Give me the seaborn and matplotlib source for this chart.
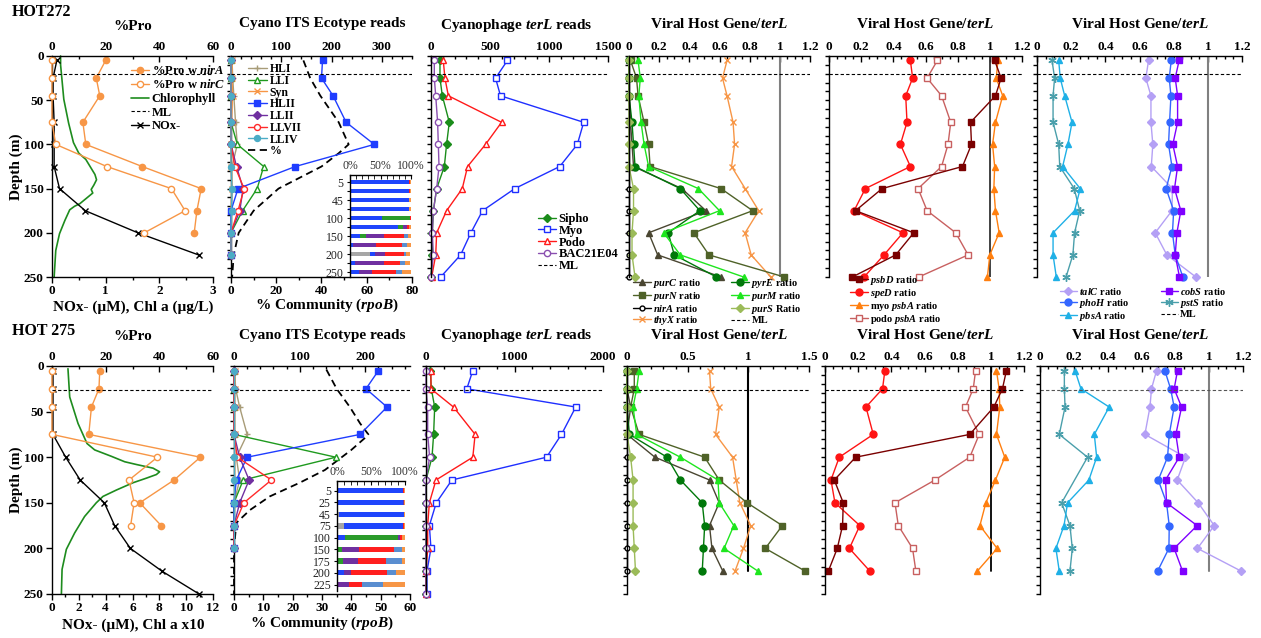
import matplotlib.pyplot as plt
import seaborn as sns
from matplotlib.lines import Line2D
from matplotlib.ticker import MultipleLocator, FuncFormatter

# ---------------- data ----------------
depth_272 = [5, 25, 45, 75, 100, 125, 150, 175, 200, 225, 250]
depth_275 = [5, 25, 45, 75, 100, 125, 150, 175, 200, 225, 250]
ml_272 = 20
ml_275 = 26

# HOT272 - %Pro / NOx / Chl
pro_nirA_272 = [20, 16.5, 17.8, 11.5, 12.6, 33.6, 55.6, 54, 53]
pro_nirC_272 = [0, 0, 0, 0, 1.4, 20.4, 44.5, 49.6, 34.4]
nox_272 = [0.09, 0.02, 0.02, 0.04, 0.04, 0.04, 0.14, 0.62, 1.6, 2.73]
chl_depth_272 = [0, 10, 49, 76, 98, 110, 117, 125, 134, 140, 146, 151, 155, 161, 167, 170, 174, 186, 201, 220, 250]
chl_272 = [0.16, 0.16, 0.22, 0.31, 0.40, 0.50, 0.63, 0.71, 0.80, 0.83, 0.78, 0.73, 0.76, 0.64, 0.52, 0.42,
           0.33, 0.24, 0.14, 0.07, 0.04]

# HOT275 - %Pro / NOx / Chl x10
pro_nirA_275 = [17.8, 17.5, 14.7, 13.7, 55.3, 45.5, 32.7, 40.7]
pro_nirC_275 = [0, 0, 0, 0, 39.3, 28.7, 30.6, 29.3]
nox_275 = [0.07, 0.07, 0.07, 0.07, 1.02, 2.1, 3.9, 4.67, 5.84, 8.2, 10.96]
chl_depth_275 = [3, 34, 63, 85, 92, 99, 105, 108, 112, 116, 119, 123, 128, 136, 143, 150, 165, 183, 201, 223, 250]
chl_275 = [1.19, 1.32, 1.94, 2.61, 3.18, 4.42, 5.42, 6.29, 7.53, 8.02, 7.78, 7.03, 6.04, 4.80, 3.80, 3.30,
           2.43, 1.69, 1.07, 0.75, 0.70]

# Cyano ITS ecotype reads
ecotypes = ['HLI', 'LLI', 'Syn', 'HLII', 'LLII', 'LLVII', 'LLIV']
its_272 = {
    'HLI': [2, 3.5, 5.6, 9, 12.6, 2, 1, 1, 1, 0],
    'LLI': [0, 0, 0, 0, 12.6, 65, 52, 23, 0, 0],
    'Syn': [2, 2, 3, 1, 0, 0, 2, 0, 0, 0],
    'HLII': [182, 180, 203, 229, 285, 128, 14, 0, 0, 0],
    'LLII': [0, 0, 0, 0, 0, 11, 24, 17.5, 0, 0],
    'LLVII': [0, 0, 0, 0, 0, 7.7, 26, 14, 0, 0],
    'LLIV': [0, 0, 0, 0, 0, 0, 2, 1, 0, 0],
}
its_275 = {
    'HLI': [1, 2.5, 8.6, 20, 3.5, 8.6, 0, 0, 0],
    'LLI': [0, 0, 0, 0, 155, 14, 0, 0, 0],
    'Syn': [1, 1, 1, 1, 1, 1, 1, 0, 0],
    'HLII': [220, 201, 233, 192, 20, 3.5, 0, 0, 0],
    'LLII': [0, 0, 0, 0, 8.6, 23, 8.6, 0, 0],
    'LLVII': [0, 0, 0, 0, 5, 57, 15, 0, 0],
    'LLIV': [0, 0, 0, 0, 0, 0, 0, 0, 0],
}
pct_depth_272 = [5, 25, 45, 75, 100, 110, 125, 150, 175, 200, 225, 250]
pct_272 = [32, 35, 39.5, 47.6, 52, 47.6, 40, 21, 10, 3.4, 1.2, 0.5]
pct_depth_275 = [4, 25, 45, 63, 75, 79, 92, 114, 128, 143, 158, 172, 200, 250]
pct_275 = [31.5, 35, 39.5, 43, 45.8, 44.6, 40, 31, 22.4, 12.2, 5.4, 0.8, 0, 0]

# % community (rpoB) stacked bars
bar_order = ['HLI', 'HLII', 'LLI', 'LLII', 'LLVII', 'LLIV', 'Syn']
bar_depth_272 = ['5', '25', '45', '75', '100', '125', '150', '175', '200', '225', '250']
bars_272 = {
    'HLI': [0, 0, 0, 0, 0, 0, 0, 0, 33, 0, 0],
    'HLII': [97, 97, 97, 97, 52, 79, 16, 5, 8, 8, 14],
    'LLI': [0, 0, 0, 0, 47, 8, 10, 0, 0, 0, 0],
    'LLII': [0, 0, 0, 0, 0, 7, 29, 38, 16, 48, 22],
    'LLVII': [1, 1, 0, 0, 1, 3, 33, 43, 31, 26, 40],
    'LLIV': [0, 0, 0, 0, 0, 0, 7, 8, 4, 8, 9],
    'Syn': [2, 2, 3, 3, 0, 3, 5, 6, 7, 9, 15],
}
bar_depth_275 = ['5', '25', '45', '75', '100', '150', '175', '200', '225']
bars_275 = {
    'HLI': [0, 1, 3, 10, 0, 0, 0, 0, 0],
    'HLII': [97, 96, 95, 87, 12, 2, 2, 11, 0],
    'LLI': [0, 0, 0, 0, 78, 5, 7, 0, 0],
    'LLII': [0, 1, 0, 0, 3, 26, 22, 10, 18],
    'LLVII': [1, 1, 1, 1, 3, 51, 41, 52, 19],
    'LLIV': [0, 0, 0, 0, 0, 11, 24, 14, 31],
    'Syn': [2, 1, 1, 2, 4, 5, 4, 13, 32],
}

# Cyanophage terL reads
sipho_272 = [76, 76, 96, 155, 132, 113, 48, 20, 11, 11, 0]
myo_272 = [648, 547, 589, 1294, 1240, 1091, 710, 437, 338, 251, 82]
podo_272 = [104, 118, 147, 598, 462, 310, 265, 132, 48, 40, 6]
bac_272 = [28, 28, 40, 56, 62, 68, 48, 20, 11, 20, 0]
sipho_275 = [49, 60, 98, 86, 68, 0, 0, 0, 0, 0, 0]
myo_275 = [529, 461, 1692, 1531, 1362, 293, 116, 38, 56, 11, 11]
podo_275 = [56, 56, 311, 555, 529, 113, 38, 19, 19, 0, 0]
bac_275 = [0, 0, 19, 19, 41, 0, 0, 0, 0, 0, 0]

# Viral host gene / terL (purine etc.)
purC_272 = [0, 0, 0, 0.01, 0.02, 0.03, 0.35, 0.51, 0.13, 0.19, 0.61]
purN_272 = [0.01, 0.05, 0.06, 0.10, 0.13, 0.14, 0.61, 0.82, 0.43, 0.53, 1.03]
nirA_272 = [0, 0, 0, 0, 0, 0, 0, 0, 0, 0, 0]
thyX_272 = [0.65, 0.62, 0.65, 0.69, 0.70, 0.68, 0.77, 0.86, 0.77, 0.81, 0.94]
pyrE_272 = [0, 0, 0, 0.02, 0.03, 0.04, 0.34, 0.47, 0.26, 0.30, 0.58]
purM_272 = [0.06, 0.075, 0.065, 0.08, 0.10, 0.13, 0.46, 0.60, 0.23, 0.34, 0.76]
purS_272 = [0, 0, 0, 0, 0, 0, 0.03, 0.03, 0.02, 0.02, 0.04]
purC_275 = [0, 0, 0.03, 0, 0.23, 0.68, 0.76, 0.68, 0.70, 0.79]
purN_275 = [0.06, 0.06, 0.03, 0.10, 0.64, 0.76, 0.99, 1.28, 1.14, 1.47]
nirA_275 = [0, 0, 0, 0, 0, 0, 0, 0, 0, 0]
thyX_275 = [0.68, 0.69, 0.76, 0.73, 0.87, 0.90, 0.93, 1.02, 0.96, 0.89]
pyrE_275 = [0, 0, 0, 0.02, 0.33, 0.44, 0.62, 0.64, 0.63, 0.62]
purM_275 = [0.10, 0.08, 0.05, 0.08, 0.44, 0.75, 0.76, 0.88, 0.80, 1.08]
purS_275 = [0, 0, 0, 0, 0.03, 0.05, 0.05, 0.05, 0.06, 0.07]

# Viral host gene / terL (photosynthesis)
psbD_272 = [1.03, 1.07, 1.035, 0.88, 0.886, 0.83, 0.33, 0.165, 0.527, 0.415, 0.145]
speD_272 = [0.506, 0.52, 0.477, 0.485, 0.444, 0.506, 0.226, 0.156, 0.46, 0.342, 0.218]
myo_psbA_272 = [1.05, 1.04, 1.08, 1.035, 1.017, 1.03, 1.025, 1.035, 1.058, 1.0, 0.985]
podo_psbA_272 = [0.674, 0.61, 0.70, 0.757, 0.74, 0.70, 0.554, 0.61, 0.788, 0.865, 0.558]
psbD_275 = [1.094, 1.07, 1.018, 0.873, 0.185, 0.056, 0.11, 0.106, 0.074, 0.02]
speD_275 = [0.361, 0.347, 0.247, 0.291, 0.086, 0.036, 0.06, 0.21, 0.147, 0.271]
myo_psbA_275 = [1.034, 1.05, 1.054, 1.034, 1.084, 1.028, 0.97, 0.934, 1.038, 0.918]
podo_psbA_275 = [0.908, 0.894, 0.847, 0.93, 0.873, 0.663, 0.422, 0.442, 0.528, 0.548]

# Viral host gene / terL (P metabolism etc.)
talC_272 = [0.653, 0.637, 0.667, 0.667, 0.678, 0.669, 0.793, 0.79, 0.692, 0.76, 0.93]
phoH_272 = [0.786, 0.774, 0.784, 0.776, 0.77, 0.79, 0.756, 0.80, 0.793, 0.809, 0.854]
cobS_272 = [0.832, 0.809, 0.823, 0.823, 0.795, 0.823, 0.805, 0.842, 0.819, 0.809, 0.834]
pstS_272 = [0.088, 0.103, 0.094, 0.094, 0.127, 0.133, 0.218, 0.25, 0.22, 0.21, 0.17]
pbsA_272 = [0.127, 0.136, 0.162, 0.205, 0.181, 0.15, 0.253, 0.22, 0.094, 0.094, 0.113]
talC_275 = [0.689, 0.659, 0.65, 0.62, 0.86, 0.811, 0.935, 1.03, 0.931, 1.19]
phoH_275 = [0.738, 0.772, 0.793, 0.764, 0.754, 0.699, 0.748, 0.764, 0.762, 0.695]
cobS_275 = [0.813, 0.793, 0.837, 0.803, 0.823, 0.742, 0.748, 0.929, 0.793, 0.843]
pstS_depth_275 = [5, 25, 45, 75, 100, 150, 175, 200, 225]
pstS_275 = [0.144, 0.144, 0.148, 0.114, 0.281, 0.128, 0.177, 0.191, 0.177]
pbsA_275 = [0.207, 0.242, 0.409, 0.321, 0.335, 0.289, 0.163, 0.142, 0.094, 0.114]

# ---------------- style ----------------
sns.set_style("ticks")
plt.rcParams['font.family'] = ['Liberation Serif', 'DejaVu Serif']
plt.rcParams['font.weight'] = 'bold'
plt.rcParams['mathtext.fontset'] = 'custom'
plt.rcParams['mathtext.rm'] = 'Liberation Serif:bold'
plt.rcParams['mathtext.it'] = 'Liberation Serif:italic:bold'
plt.rcParams['mathtext.bf'] = 'Liberation Serif:bold'
for k in ['axes.edgecolor', 'text.color', 'xtick.color', 'ytick.color', 'axes.labelcolor']:
    plt.rcParams[k] = 'black'
plt.rcParams['axes.linewidth'] = 1.0

ORANGE = '#f79646'
line_col = {'HLI': '#a89c78', 'LLI': '#1f9a1f', 'Syn': ORANGE, 'HLII': '#1f3dff',
            'LLII': '#7030a0', 'LLVII': '#ff2a2a', 'LLIV': '#4bacc6'}
line_mk = {'HLI': '+', 'LLI': '^', 'Syn': 'x', 'HLII': 's', 'LLII': 'D', 'LLVII': 'o', 'LLIV': 'o'}
line_open = {'LLI', 'LLVII'}
bar_col = {'HLI': '#a6a6a6', 'HLII': '#1f45fc', 'LLI': '#2b9b2b', 'LLII': '#7030a0',
           'LLVII': '#ff1f1f', 'LLIV': '#5a8ed0', 'Syn': ORANGE}

W, H = 1261, 638
fig = plt.figure(figsize=(W / 100, H / 100), dpi=100)
fmt = FuncFormatter(lambda v, p: f'{v:g}')


def px_axes(x0, x1, y0, y1):
    return fig.add_axes([x0 / W, 1 - y1 / H, (x1 - x0) / W, (y1 - y0) / H])


def prof(ax, x, y, color, marker=None, label=None, mfc=None, ms=4.5, lw=1.0, ls='-', mew=1.0):
    kw = dict(color=color, linewidth=lw, linestyle=ls, clip_on=False)
    if marker:
        kw.update(marker=marker, markersize=ms, markerfacecolor=color if mfc is None else mfc,
                  markeredgecolor=color, markeredgewidth=mew)
    sns.lineplot(x=x, y=y, ax=ax, estimator=None, sort=False, legend=False, label=label, **kw)
    return ax.lines[-1]


def style_depth(ax, labelled=False):
    ax.set_ylim(250, 0)
    if labelled:
        ax.set_yticks(range(0, 251, 50))
        ax.tick_params(axis='y', direction='out', length=4, width=1, labelsize=9.5, pad=2)
    else:
        ax.set_yticks(range(0, 251, 10))
        ax.set_yticklabels([])
        ax.tick_params(axis='y', direction='out', length=3, width=1)
    ax.set_ylabel('')


def style_top(ax, hi, major, minor):
    ax.set_xlim(0, hi)
    ax.xaxis.set_major_locator(MultipleLocator(major))
    ax.xaxis.set_minor_locator(MultipleLocator(minor))
    ax.xaxis.set_major_formatter(fmt)
    ax.xaxis.tick_top()
    ax.tick_params(axis='x', which='both', top=True, bottom=False, labeltop=True, labelbottom=False,
                   direction='in', labelsize=9.5, pad=2, width=1)
    ax.tick_params(axis='x', which='major', length=4)
    ax.tick_params(axis='x', which='minor', length=2.5)
    ax.set_xlabel('')


def style_bottom(ax, hi, major, minor):
    ax.set_xlim(0, hi)
    ax.xaxis.set_major_locator(MultipleLocator(major))
    ax.xaxis.set_minor_locator(MultipleLocator(minor))
    ax.xaxis.set_major_formatter(fmt)
    ax.tick_params(axis='x', which='both', bottom=True, top=False, direction='out', labelsize=9.5,
                   pad=2, width=1)
    ax.tick_params(axis='x', which='major', length=4)
    ax.tick_params(axis='x', which='minor', length=2.5)
    ax.set_xlabel('')


def single_axes(x0, x1, y0, y1):
    ax = px_axes(x0, x1, y0, y1)
    ax.patch.set_alpha(0)
    for s in ['bottom', 'right']:
        ax.spines[s].set_visible(False)
    return ax


def twin_axes(x0, x1, y0, y1):
    ax_b = px_axes(x0, x1, y0, y1)
    ax_b.patch.set_alpha(0)
    ax_t = ax_b.twiny()
    ax_b.spines['top'].set_visible(False)
    ax_b.spines['right'].set_visible(False)
    for s in ['left', 'right', 'bottom']:
        ax_t.spines[s].set_visible(False)
    return ax_b, ax_t


def put_legend(ax, handles, x, y, ncol=1, size=9, hl=1.4, lsp=0.0, cs=1.0):
    return ax.legend(handles=handles, loc='upper left', bbox_to_anchor=(x / W, 1 - y / H),
                     bbox_transform=fig.transFigure, frameon=False, ncol=ncol, borderpad=0,
                     borderaxespad=0, handlelength=hl, handletextpad=0.25, labelspacing=lsp,
                     columnspacing=cs, prop={'size': size, 'weight': 'bold'})


def ml_handle():
    return Line2D([], [], color='black', linestyle=(0, (3, 2)), linewidth=0.8, label='ML')


def ml_line(ax, depth, color='black'):
    ax.axhline(depth, color=color, linestyle=(0, (3, 2)), linewidth=0.8)


def ftext(x, y, s, size=11, **kw):
    fig.text(x / W, 1 - y / H, s, fontsize=size, ha=kw.pop('ha', 'center'), va=kw.pop('va', 'center'), **kw)


rows = [
    dict(y0=56, y1=277, depth=depth_272, ml=ml_272, legend=True),
    dict(y0=366, y1=594, depth=depth_275, ml=ml_275, legend=False),
]

# ================= panel 1: %Pro, NOx, Chl =================
for r, (nirA, nirC, nox, cd, chl, hi_b) in enumerate([
        (pro_nirA_272, pro_nirC_272, nox_272, chl_depth_272, chl_272, 3),
        (pro_nirA_275, pro_nirC_275, nox_275, chl_depth_275, chl_275, 12)]):
    row = rows[r]
    d = row['depth']
    ax_b, ax_t = twin_axes(52, 213, row['y0'], row['y1'])
    h_chl = prof(ax_b, chl, cd, '#1e8c1e', label='Chlorophyll', lw=1.2)
    h_nox = prof(ax_b, nox, d[:len(nox)], 'black', 'x', label='NOx-', ms=5)
    h_a = prof(ax_t, nirA, d[:len(nirA)], ORANGE, 'o', label='%Pro w $\\mathit{nirA}$', ms=4.5)
    h_c = prof(ax_t, nirC, d[:len(nirC)], ORANGE, 'o', label='%Pro w $\\mathit{nirC}$', mfc='white', ms=4.5)
    ml_line(ax_t, row['ml'])
    style_depth(ax_b, labelled=True)
    style_bottom(ax_b, hi_b, 1 if hi_b == 3 else 2, 0.5 if hi_b == 3 else 1)
    style_top(ax_t, 60, 20, 10)
    ax_t.set_ylim(250, 0)
    if row['legend']:
        put_legend(ax_t, [h_a, h_c, h_chl, ml_handle(), h_nox], 131, 64, size=9, hl=1.4, lsp=0.12)

# ================= panel 2: Cyano ITS ecotype reads =================
for r, (its, pct_d, pct, bars, bar_d, hi_t, hi_b, xr, inset) in enumerate([
        (its_272, pct_depth_272, pct_272, bars_272, bar_depth_272, 360, 80, (231, 412), (350, 411, 175, 277)),
        (its_275, pct_depth_275, pct_275, bars_275, bar_depth_275, 268, 60, (234, 410), (337, 405, 481, 591))]):
    row = rows[r]
    d = row['depth']
    ax_b, ax_t = twin_axes(xr[0], xr[1], row['y0'], row['y1'])
    h_pct = prof(ax_b, pct, pct_d, 'black', label='%', lw=1.3, ls=(0, (4, 2.5)))
    handles = []
    for eco in ecotypes:
        vals = its[eco]
        handles.append(prof(ax_t, vals, d[:len(vals)], line_col[eco], line_mk[eco], label=eco,
                            mfc='white' if eco in line_open else None,
                            ms=5 if eco in ('HLI', 'Syn') else 4.3))
    ml_line(ax_t, row['ml'])
    style_depth(ax_b)
    style_bottom(ax_b, hi_b, 20 if hi_b == 80 else 10, 10 if hi_b == 80 else 5)
    style_top(ax_t, hi_t, 100, 20)
    ax_t.set_ylim(250, 0)
    if row['legend']:
        put_legend(ax_t, handles + [h_pct], 248, 63, size=8.5, hl=1.6, lsp=-0.02)

    # inset: % community stacked bars
    ax_i = px_axes(*inset)
    ax_i.patch.set_alpha(0)
    n = len(bar_d)
    left = [0] * n
    for eco in bar_order:
        ax_i.barh(range(n), bars[eco], left=left, height=0.45, color=bar_col[eco], linewidth=0)
        left = [a + b for a, b in zip(left, bars[eco])]
    ax_i.set_xlim(0, 100)
    ax_i.set_ylim(n - 1 + 0.55, -0.83)
    ax_i.set_yticks(range(n))
    if n == 11:
        ax_i.set_yticklabels([lab if i % 2 == 0 else '' for i, lab in enumerate(bar_d)])
    else:
        ax_i.set_yticklabels(bar_d)
    ax_i.xaxis.tick_top()
    ax_i.set_xticks([0, 50, 100])
    ax_i.set_xticklabels(['0%', '50%', '100%'])
    ax_i.xaxis.set_minor_locator(MultipleLocator(10))
    ax_i.tick_params(axis='x', which='both', direction='in', length=3, labelsize=8.5, pad=2,
                     labelcolor='#333333')
    ax_i.tick_params(axis='y', direction='out', length=2.5, labelsize=8.5, pad=2, labelcolor='#222222')
    for lab in ax_i.get_xticklabels() + ax_i.get_yticklabels():
        lab.set_fontweight('normal')
    ax_i.spines['right'].set_visible(False)
    ax_i.spines['bottom'].set_visible(False)

# ================= panel 3: Cyanophage terL reads =================
for r, (sipho, myo, podo, bac, hi, major, minor, xr) in enumerate([
        (sipho_272, myo_272, podo_272, bac_272, 1500, 500, 100, (431, 608)),
        (sipho_275, myo_275, podo_275, bac_275, 2000, 1000, 200, (426, 603))]):
    row = rows[r]
    d = row['depth']
    ax = single_axes(xr[0], xr[1], row['y0'], row['y1'])
    h1 = prof(ax, sipho, d, '#1a8c1a', 'D', label='Sipho', ms=3.8)
    h2 = prof(ax, myo, d, '#1f2fff', 's', label='Myo', mfc='white', ms=4.5)
    h3 = prof(ax, podo, d, '#ff1a1a', '^', label='Podo', mfc='white', ms=5)
    h4 = prof(ax, bac, d, '#8a4fb0', 'o', label='BAC21E04', mfc='white', ms=4.5)
    ml_line(ax, row['ml'])
    style_depth(ax)
    style_top(ax, hi, major, minor)
    if row['legend']:
        put_legend(ax, [h1, h2, h3, h4, ml_handle()], 538, 213, size=9, hl=1.4, lsp=-0.02)

# ================= panel 4: purine genes / terL =================
for r, (purC, purN, nirA, thyX, pyrE, purM, purS, hi, major, xr, vcol) in enumerate([
        (purC_272, purN_272, nirA_272, thyX_272, pyrE_272, purM_272, purS_272, 1.2, 0.2, (629, 810), '#808080'),
        (purC_275, purN_275, nirA_275, thyX_275, pyrE_275, purM_275, purS_275, 1.5, 0.5, (627, 809), 'black')]):
    row = rows[r]
    d = row['depth'][:len(purC)]
    ax = single_axes(xr[0], xr[1], row['y0'], row['y1'])
    ax.axvline(1, ymin=(250 - d[-1]) / 250, ymax=1, color=vcol, linewidth=1.5)
    h_thyX = prof(ax, thyX, d, ORANGE, 'x', label='$\\mathit{thyX}$ ratio', ms=4.5)
    h_purN = prof(ax, purN, d, '#4f6228', 's', label='$\\mathit{purN}$ ratio', ms=5)
    h_purC = prof(ax, purC, d, '#4a4632', '^', label='$\\mathit{purC}$ ratio', ms=5)
    h_pyrE = prof(ax, pyrE, d, '#00780a', 'o', label='$\\mathit{pyrE}$ ratio', ms=5)
    h_purM = prof(ax, purM, d, '#1ee61e', '^', label='$\\mathit{purM}$ ratio', ms=5)
    h_nirA = prof(ax, nirA, d, 'black', 'o', label='$\\mathit{nirA}$ ratio', mfc='white', ms=3.5)
    h_purS = prof(ax, purS, d, '#9bbb59', 'D', label='$\\mathit{purS}$ Ratio', ms=3.8)
    ml_line(ax, row['ml'])
    style_depth(ax)
    style_top(ax, hi, major, 0.05 if hi == 1.2 else 0.1)
    if row['legend']:
        put_legend(ax, [h_purC, h_purN, h_nirA, h_thyX, h_pyrE, h_purM, h_purS, ml_handle()],
                   633, 277, ncol=2, size=7.5, hl=1.7, lsp=0.0, cs=2.8)

# ================= panel 5: psb genes / terL =================
for r, (psbD, speD, myoA, podoA, xr, vcol) in enumerate([
        (psbD_272, speD_272, myo_psbA_272, podo_psbA_272, (829, 1022), '#333333'),
        (psbD_275, speD_275, myo_psbA_275, podo_psbA_275, (825, 1024), 'black')]):
    row = rows[r]
    d = row['depth'][:len(psbD)]
    ax = single_axes(xr[0], xr[1], row['y0'], row['y1'])
    ax.axvline(1, ymin=(250 - d[-1]) / 250, ymax=1, color=vcol, linewidth=1.3)
    h_podo = prof(ax, podoA, d, '#c86060', 's', label='podo $\\mathit{psbA}$ ratio', mfc='white', ms=4.3)
    h_myo = prof(ax, myoA, d, '#ff7f0f', '^', label='myo $\\mathit{psbA}$ ratio', ms=5)
    h_speD = prof(ax, speD, d, '#ff1414', 'o', label='$\\mathit{speD}$ ratio', ms=5)
    h_psbD = prof(ax, psbD, d, '#7a0000', 's', label='$\\mathit{psbD}$ ratio', ms=5)
    ml_line(ax, row['ml'])
    style_depth(ax)
    style_top(ax, 1.2, 0.2, 0.05)
    if row['legend']:
        put_legend(ax, [h_psbD, h_speD, h_myo, h_podo], 850, 274, size=7.5, hl=1.7, lsp=0.0)

# ================= panel 6: other genes / terL =================
for r, (talC, phoH, cobS, pstS, pstS_d, pbsA, xr) in enumerate([
        (talC_272, phoH_272, cobS_272, pstS_272, depth_272, pbsA_272, (1037, 1242)),
        (talC_275, phoH_275, cobS_275, pstS_275, pstS_depth_275, pbsA_275, (1040, 1243))]):
    row = rows[r]
    d = row['depth'][:len(talC)]
    ax = single_axes(xr[0], xr[1], row['y0'], row['y1'])
    ax.axvline(1, ymin=(250 - d[-1]) / 250, ymax=1, color='#808080', linewidth=1.5)
    h_talC = prof(ax, talC, d, '#b4a0f5', 'D', label='$\\mathit{talC}$ ratio', ms=3.8)
    h_pstS = prof(ax, pstS, pstS_d, '#4a9fab', (6, 2, 0), label='$\\mathit{pstS}$ ratio', ms=6, mew=1.0)
    h_pbsA = prof(ax, pbsA, d, '#1fb0e6', '^', label='$\\mathit{pbsA}$ ratio', ms=5)
    h_phoH = prof(ax, phoH, d, '#3366ff', 'o', label='$\\mathit{phoH}$ ratio', ms=5)
    h_cobS = prof(ax, cobS, d, '#7f00ff', 's', label='$\\mathit{cobS}$ ratio', ms=5)
    ml_line(ax, row['ml'], color='#555555' if r else 'black')
    style_depth(ax)
    style_top(ax, 1.2, 0.2, 0.05)
    if row['legend']:
        put_legend(ax, [h_talC, h_phoH, h_pbsA, h_cobS, h_pstS, ml_handle()],
                   1060, 286, ncol=2, size=7.5, hl=1.6, lsp=0.0, cs=3.0)

# ---------------- titles and labels ----------------
ftext(12, 12, 'HOT272', size=11.5, ha='left')
ftext(12, 331, 'HOT 275', size=11.5, ha='left')
for y in (26, 337):
    ftext(133, y, '%Pro')
    ftext(322, y - 2, 'Cyano ITS Ecotype reads')
    ftext(516, y - 1, 'Cyanophage $\\mathit{terL}$ reads')
    ftext(719, y - 2, 'Viral Host Gene/$\\mathit{terL}$')
    ftext(925, y - 2, 'Viral Host Gene/$\\mathit{terL}$')
    ftext(1140, y - 2, 'Viral Host Gene/$\\mathit{terL}$')
ftext(133, 307, 'NOx- (µM), Chl a (µg/L)')
ftext(133, 625, 'NOx- (µM), Chl a x10')
ftext(327, 305, '% Community ($\\mathit{rpoB}$)')
ftext(322, 623, '% Community ($\\mathit{rpoB}$)')
ftext(16, 167, 'Depth (m)', rotation=90)
ftext(16, 480, 'Depth (m)', rotation=90)

fig.savefig('out.png', dpi=100)
